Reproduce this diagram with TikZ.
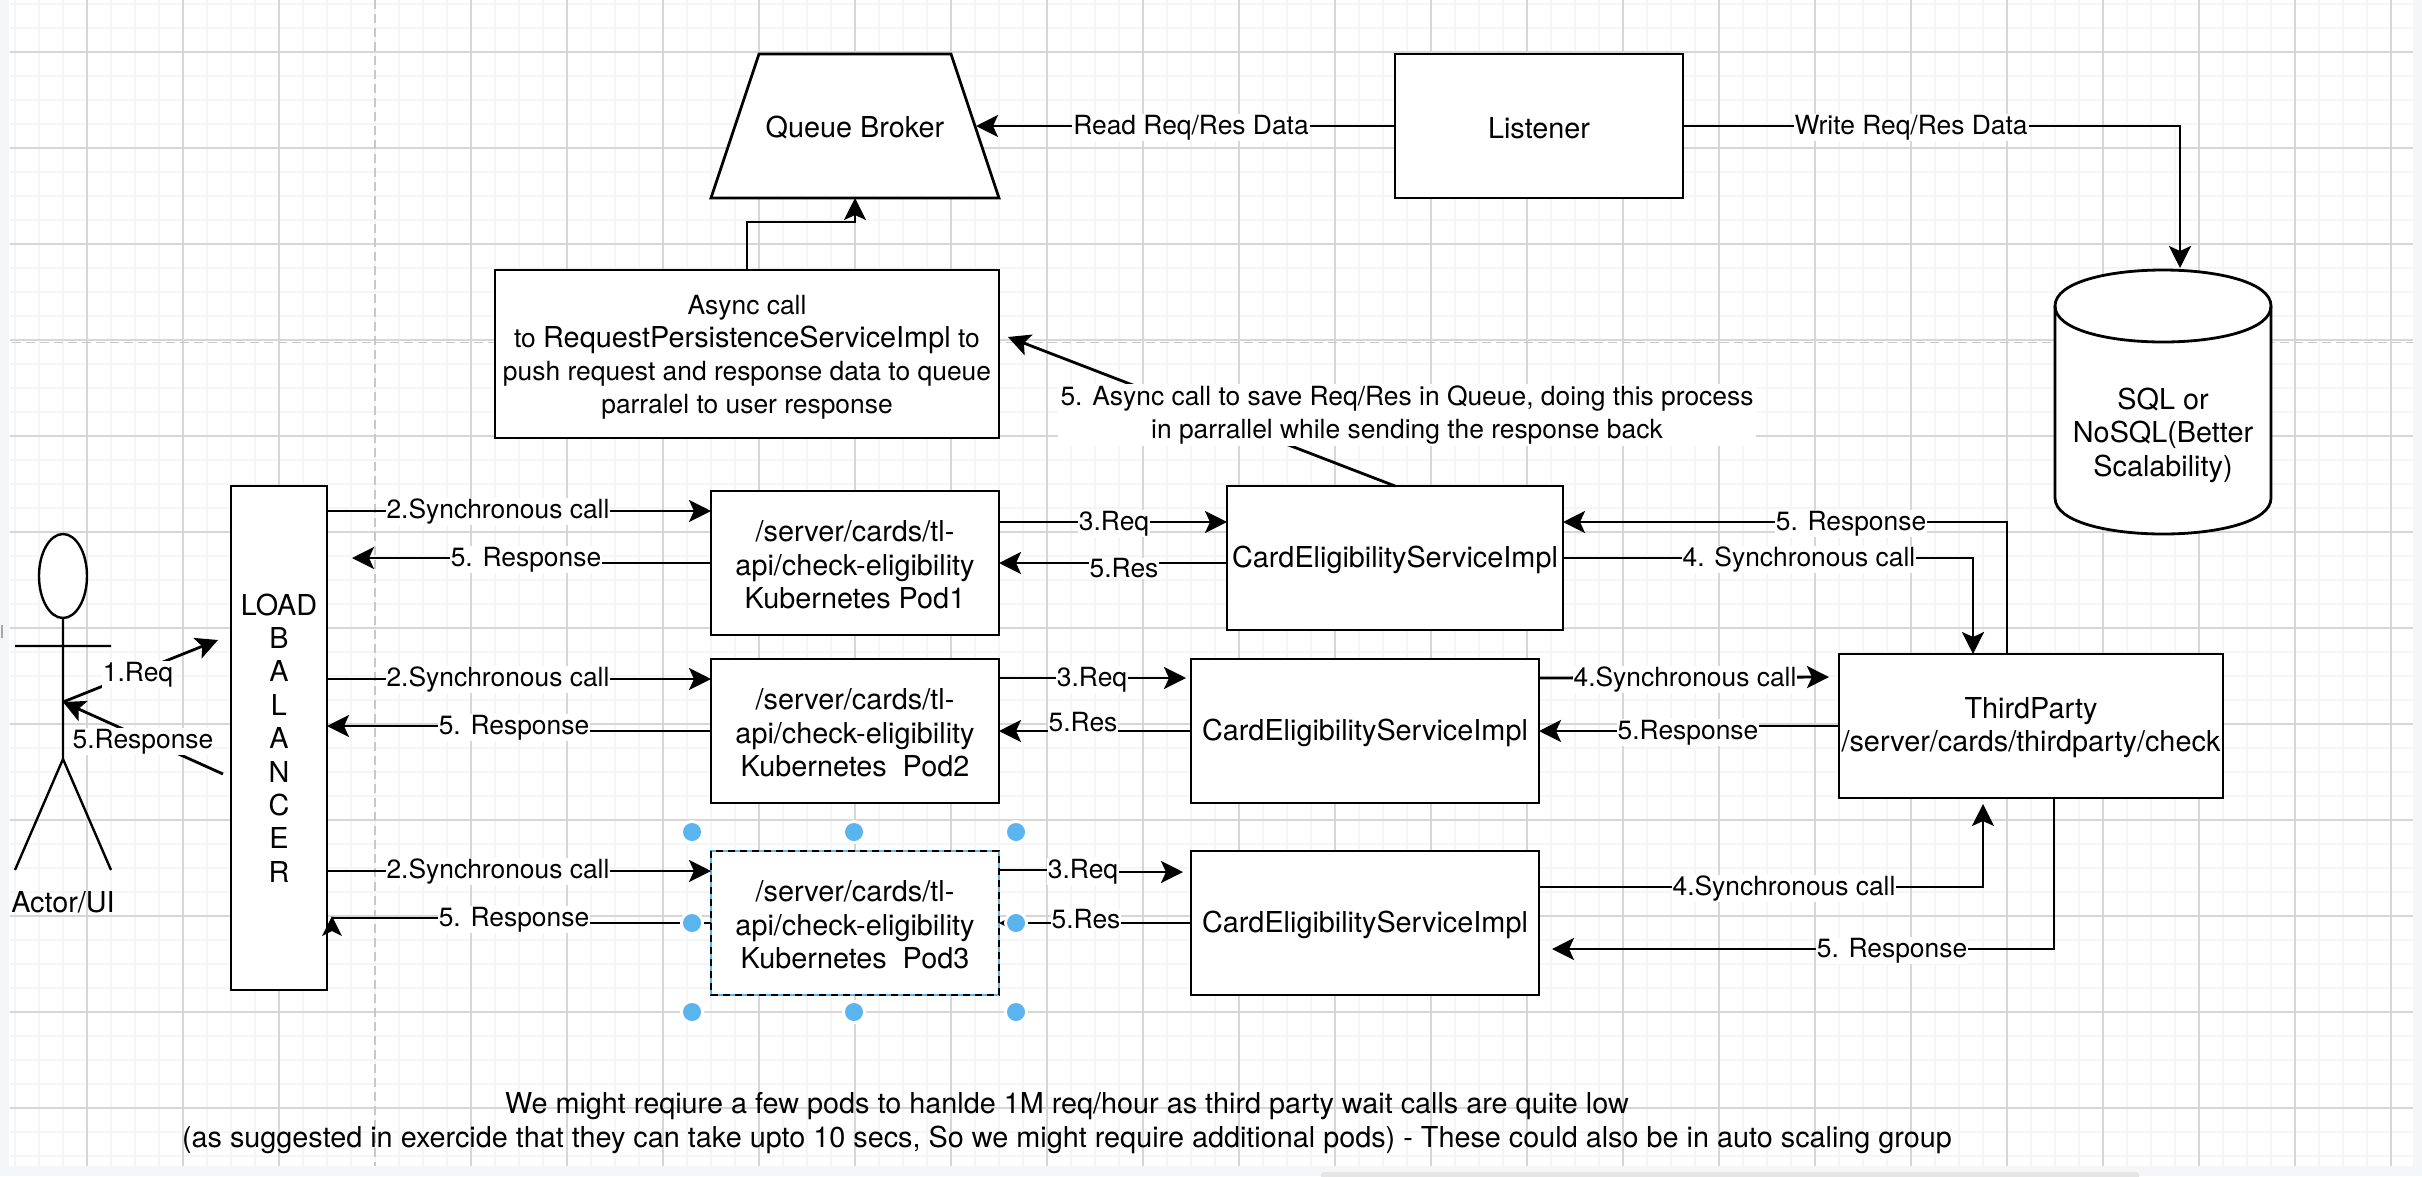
\documentclass[tikz,border=0pt]{standalone}
\usepackage{fontspec}
\setmainfont{TeX Gyre Heros}
\usetikzlibrary{arrows.meta}
\definecolor{gmin}{HTML}{F5F5F5}
\definecolor{gmaj}{HTML}{D6D6D6}
\definecolor{gdash}{HTML}{C8C8C8}
\definecolor{handle}{HTML}{5AB4EE}
\definecolor{gutter}{HTML}{F5F6F8}
\newcommand\dn{\rule{0pt}{24.5pt}}
\newcommand\dnl{\rule{0pt}{25pt}}
\tikzset{
  txt/.style={font=\fontsize{28.8}{33.4}\selectfont,text=black,align=center,inner sep=0pt,outer sep=0pt},
  smalltxt/.style={txt,font=\fontsize{26.4}{33}\selectfont},
  boxn/.style={txt,draw=black,line width=2.8pt,fill=white,rectangle},
  podbox/.style={boxn,minimum width=288pt,minimum height=144pt},
  conn/.style={line width=2.8pt,draw=black,-{Stealth[length=22pt,width=22pt,inset=5pt]}},
  plainconn/.style={line width=2.8pt,draw=black},
  lbl/.style={smalltxt,fill=white,inner xsep=1pt,inner ysep=1pt,yshift=-1.5pt},
  hdl/.style={fill=handle},
  halo/.style={fill=white},
}
\begin{document}
\begin{tikzpicture}[x=1pt,y=-1pt,line join=miter]
\useasboundingbox (0,0) rectangle (2422,1176);
\fill[white] (0,0) rectangle (2422,1176);
% grid
\foreach \k in {0,...,100}{\draw[gmin,line width=2pt] ({15+24*\k},0) -- ({15+24*\k},1166);}
\foreach \k in {0,...,48}{\draw[gmin,line width=2pt] (10,{4+24*\k}) -- (2413,{4+24*\k});}
\foreach \k in {0,1,2,4,5,6,7,8,9,10,11,12,13,14,15,16,17,18,19,20,21,22,23,24}{\draw[gmaj,line width=1.3pt] ({87+96*\k},0) -- ({87+96*\k},1166);}
\foreach \k in {0,...,11}{\draw[gmaj,line width=1.3pt] (10,{52+96*\k}) -- (2413,{52+96*\k});}
\draw[gdash,line width=1.6pt,dash pattern=on 9pt off 5pt] (375,0) -- (375,1166);
\draw[gdash,line width=1.6pt,dash pattern=on 9pt off 5pt] (12,342.5) -- (2413,342.5);
% window edges
\fill[gutter] (0,0) rectangle (9,1176);
\fill[gutter] (2413,0) rectangle (2422,1176);
\fill[gutter] (0,1166) rectangle (2422,1176);
\fill[gray!70] (1,625) rectangle (3,638);
\fill[black!10,rounded corners=3pt] (1321,1172) rectangle (2139,1180);

% nodes
\draw[line width=2.8pt,fill=white] (759,54) -- (951,54) -- (999,198) -- (711,198) -- cycle;
\node[txt] (queue) at (855,126) {\dn Queue Broker};
\coordinate (queueside) at (976,126);
\coordinate (queuebase) at (855,198);
\node[boxn,minimum width=288pt,minimum height=144pt] (listener) at (1539,126) {\dn Listener};
\node[boxn,smalltxt,minimum width=504pt,minimum height=168pt] (async) at (747,354) {\dnl Async call\\to {\fontsize{28.8}{33}\selectfont RequestPersistenceServiceImpl} to\\push request and response data to queue\\parralel to user response};
\draw[line width=2.8pt,fill=white] (2055,306) .. controls (2055,258) and (2271,258) .. (2271,306) -- (2271,498) .. controls (2271,546) and (2055,546) .. (2055,498) -- cycle;
\draw[line width=2.8pt] (2055,306) .. controls (2055,354) and (2271,354) .. (2271,306);
\node[txt] (db) at (2163,435) {SQL or\\NoSQL(Better\\Scalability)};
\node[boxn,minimum width=96pt,minimum height=504pt] (lb) at (279,738) {LOAD\\B\\A\\L\\A\\N\\C\\E\\R};
\node[podbox] (pod1) at (855,563) {\dn/server/cards/tl-\\api/check-eligibility\\Kubernetes Pod1};
\node[podbox] (pod2) at (855,731) {\dn/server/cards/tl-\\api/check-eligibility\\Kubernetes\ \ Pod2};
\node[podbox,draw=handle] (pod3) at (855,923) {\dn/server/cards/tl-\\api/check-eligibility\\Kubernetes\ \ Pod3};
\node[boxn,minimum width=336pt,minimum height=144pt] (card1) at (1395,558) {\dn CardEligibilityServiceImpl};
\node[boxn,minimum width=348pt,minimum height=144pt] (card2) at (1365,731) {\dn CardEligibilityServiceImpl};
\node[boxn,minimum width=348pt,minimum height=144pt] (card3) at (1365,923) {\dn CardEligibilityServiceImpl};
\node[boxn,minimum width=384pt,minimum height=144pt] (third) at (2031,726) {\dn ThirdParty\\/server/cards/thirdparty/check};

% actor
\draw[line width=2.4pt,fill=white] (63,576) ellipse (24 and 42);
\coordinate (neck) at (63,618);
\coordinate (hip) at (63,759);
\coordinate (torso) at (63,702);
\draw[line width=2.4pt] (neck) -- (hip) (15,646) -- (111,646) (15,870) -- (hip) -- (111,870);
\node[txt] (actorlabel) at (63,902) {Actor/UI};

% free ends
\coordinate (reqtip) at (218,640);
\coordinate (restail) at (223,774);
\coordinate (lbtip1) at (352,558);
\coordinate (lbtip3) at (332,918);
\coordinate (cardtip2) at (1186,678);
\coordinate (cardtip3) at (1183,872);
\coordinate (thirdtip2) at (1829,677);
\coordinate (thirdtip3) at (1983,804);
\coordinate (cardtip4) at (1552,949);
\coordinate (asynctip) at (1008,337);
\coordinate (dbtip) at (2180,268);

% connectors
\draw[conn] (listener.west) -- (queueside);
\draw[conn] (listener.east) -- (dbtip |- listener.east) -- (dbtip);
\draw[conn] (async.north -| 747,0) -- (747,222) -- (855,222) -- (queuebase);
\draw[conn] (card1.north) -- (asynctip);
\draw[conn] (torso) -- (reqtip);
\draw[conn] (restail) -- (torso);

\draw[conn] (lb.east |- 0,511) -- (pod1.west |- 0,511);
\draw[conn] (pod1.west |- 0,563) -- (526,563) -- (526,558) -- (lbtip1);
\draw[conn] (lb.east |- 0,679) -- (pod2.west |- 0,679);
\draw[conn] (pod2.west |- 0,731) -- (514,731) -- (514,726) -- (lb.east |- 0,726);
\draw[conn] (lb.east |- 0,871) -- (pod3.west |- 0,871);
\draw[plainconn] (pod3.west |- 0,923) -- (514,923) -- (514,918) -- (lbtip3);
\fill (lbtip3 |- 0,916) -- (342,936) -- (332,931) -- (322,936) -- cycle;

\draw[conn] (pod1.east |- 0,522) -- (card1.west |- 0,522);
\draw[conn] (card1.west |- 0,563) -- (pod1.east |- 0,563);
\draw[conn] (pod2.east |- 0,678) -- (cardtip2);
\draw[conn] (card2.west) -- (pod2.east);
\draw[conn] (pod3.east |- 0,870) -- (1083,870) -- (1083,872) -- (cardtip3);
\draw[conn] (card3.west) -- (pod3.east);

\draw[conn] (card1.east) -- (1973,558) -- (third.north -| 1973,0);
\draw[conn] (third.north -| 2007,0) -- (2007,522) -- (card1.east |- 0,522);
\draw[conn] (card2.east |- 0,678) -- (thirdtip2);
\draw[conn] (third.west) -- (1688,726) -- (1688,731) -- (card2.east |- 0,731);
\draw[conn] (card3.east |- 0,887) -- (1983,887) -- (thirdtip3);
\draw[conn] (third.south -| 2054,0) -- (2054,949) -- (cardtip4);

% selected pod border and handles
\draw[black,line width=2.8pt,dash pattern=on 7pt off 5pt] (pod3.north west) rectangle (pod3.south east);
\foreach \a/\dx/\dy in {north west/-19/19,north/-1/19,north east/17/19,west/-19/0,east/17/0,south west/-19/-17,south/-1/-17,south east/17/-17}{
  \fill[halo] ([xshift=\dx pt,yshift=\dy pt]pod3.\a) circle (12);
  \fill[hdl] ([xshift=\dx pt,yshift=\dy pt]pod3.\a) circle (9);
}

% labels
\node[lbl] (l1) at (138,673) {1.Req};
\node[lbl] (l2) at (143,740) {5.Response};
\node[lbl] (l3) at (498,510) {2.Synchronous call};
\node[lbl] (l4) at (526,558) {5. Response};
\node[lbl] (l5) at (498,678) {2.Synchronous call};
\node[lbl] (l6) at (514,726) {5. Response};
\node[lbl] (l7) at (498,870) {2.Synchronous call};
\node[lbl] (l8) at (514,918) {5. Response};
\node[lbl] (l9) at (1114,522) {3.Req};
\node[lbl] (l10) at (1124,567) {5.Res};
\node[lbl] (l11) at (1092,678) {3.Req};
\node[lbl] (l12) at (1083,721) {5.Res};
\node[lbl] (l13) at (1083,870) {3.Req};
\node[lbl] (l14) at (1086,918) {5.Res};
\node[lbl] (l15) at (1191,126) {Read Req/Res Data};
\node[lbl] (l16) at (1911,126) {Write Req/Res Data};
\node[lbl] (l17) at (1799,558) {4. Synchronous call};
\node[lbl] (l18) at (1851,522) {5. Response};
\node[lbl] (l19) at (1685,678) {4.Synchronous call};
\node[lbl] (l20) at (1688,731) {5.Response};
\node[lbl] (l21) at (1784,887) {4.Synchronous call};
\node[lbl] (l22) at (1892,949) {5. Response};
\node[lbl,yshift=1.5pt,minimum width=698pt,minimum height=62pt] (l23) at (1407,415) {5. Async call to save Req/Res in Queue, doing this process\\in parrallel while sending the response back};
\node[txt] (foot) at (1067,1123) {We might reqiure a few pods to hanlde 1M req/hour as third party wait calls are quite low\\(as suggested in exercide that they can take upto 10 secs, So we might require additional pods) - These could also be in auto scaling group};
\end{tikzpicture}
\end{document}
